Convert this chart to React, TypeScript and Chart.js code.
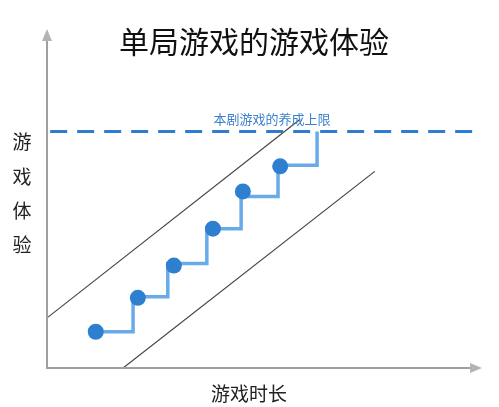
import { useEffect, useRef } from "react";
import { Chart, registerables } from "chart.js";

Chart.register(...registerables);

// chart coordinates: both axes run 0..100 (arbitrary units)
const dotX = [11, 20.7, 29.0, 38.0, 44.9, 53.5];
const dotY = [10.7, 20.7, 30.2, 41.1, 52.1, 59.5];

const stepX = [11, 19.6, 27.6, 36.6, 44.5, 53.0, 62.0];
const stepY = [10.7, 21.0, 30.8, 41.1, 50.6, 59.8, 69.8];

const upperBandX = [0, 58.1];
const upperBandY = [15, 73.4];
const lowerBandX = [17.3, 75.3];
const lowerBandY = [0, 58.0];

const capX = [0.5, 98.6];
const capY = [69.8, 69.8];

const title = "单局游戏的游戏体验";
const xTitle = "游戏时长";
const yTitle = ["游", "戏", "体", "验"];
const capLabel = "本剧游戏的养成上限";

const FONT = '"Noto Sans CJK SC", "Noto Sans", sans-serif';

const toPoints = (xs: number[], ys: number[]) =>
  xs.map((x, i) => ({ x, y: ys[i] }));

// axis arrows + text labels
const decorations = {
  id: "decorations",
  afterDatasetsDraw(chart: any) {
    const { ctx, chartArea } = chart;
    const { left, right, top, bottom } = chartArea;
    ctx.save();

    // axes
    ctx.strokeStyle = "#a0a0a0";
    ctx.lineWidth = 2;
    ctx.beginPath();
    ctx.moveTo(left - 1, top + 10);
    ctx.lineTo(left - 1, bottom);
    ctx.lineTo(right - 10, bottom);
    ctx.stroke();

    ctx.fillStyle = "#b4b4b4";
    ctx.beginPath();
    ctx.moveTo(left - 1, top);
    ctx.lineTo(left - 6, top + 12);
    ctx.lineTo(left + 4, top + 12);
    ctx.closePath();
    ctx.fill();
    ctx.beginPath();
    ctx.moveTo(right, bottom);
    ctx.lineTo(right - 12, bottom - 5);
    ctx.lineTo(right - 12, bottom + 5);
    ctx.closePath();
    ctx.fill();

    ctx.textAlign = "center";
    ctx.textBaseline = "middle";

    ctx.fillStyle = "#111";
    ctx.font = `30px ${FONT}`;
    ctx.fillText(title, 254, 42);

    ctx.fillStyle = "#222";
    ctx.font = `19px ${FONT}`;
    ctx.fillText(xTitle, 249, 394);
    const yCenters = [142, 177, 211, 245];
    yTitle.forEach((ch, i) => ctx.fillText(ch, 22, yCenters[i]));

    ctx.fillStyle = "#3a80cc";
    ctx.font = `13px ${FONT}`;
    ctx.fillText(capLabel, 272, 119);

    ctx.restore();
  },
};

export default function App() {
  const chartRef = useRef<HTMLCanvasElement>(null);

  useEffect(() => {
    document.body.style.margin = "0";
    if (!chartRef.current) return;

    const chartInstance = new Chart(chartRef.current, {
      type: "scatter",
      data: {
        datasets: [
          {
            label: "dots",
            data: toPoints(dotX, dotY),
            backgroundColor: "#2f7fd1",
            borderWidth: 0,
            pointRadius: 8,
            showLine: false,
          },
          {
            label: "steps",
            data: toPoints(stepX, stepY),
            borderColor: "#69aae8",
            borderWidth: 3.5,
            pointRadius: 0,
            showLine: true,
            stepped: "before",
          },
          {
            label: "cap",
            data: toPoints(capX, capY),
            borderColor: "#2e7bd0",
            borderWidth: 3,
            borderDash: [17, 10],
            pointRadius: 0,
            showLine: true,
          },
          {
            label: "upper",
            data: toPoints(upperBandX, upperBandY),
            borderColor: "#444",
            borderWidth: 1.2,
            pointRadius: 0,
            showLine: true,
          },
          {
            label: "lower",
            data: toPoints(lowerBandX, lowerBandY),
            borderColor: "#444",
            borderWidth: 1.2,
            pointRadius: 0,
            showLine: true,
          },
        ],
      },
      options: {
        responsive: false,
        animation: false,
        layout: {
          padding: { left: 48, right: 17, top: 29, bottom: 39 },
        },
        plugins: {
          legend: { display: false },
          tooltip: { enabled: false },
        },
        scales: {
          x: { type: "linear", min: 0, max: 100, display: false },
          y: { type: "linear", min: 0, max: 100, display: false },
        },
      },
      plugins: [decorations],
    });

    return () => {
      chartInstance.destroy();
    };
  }, []);

  return (
    <div style={{ width: 499, height: 407, background: "#fff" }}>
      <canvas
        ref={chartRef}
        width={499}
        height={407}
        style={{ width: 499, height: 407, display: "block" }}
      ></canvas>
    </div>
  );
}
